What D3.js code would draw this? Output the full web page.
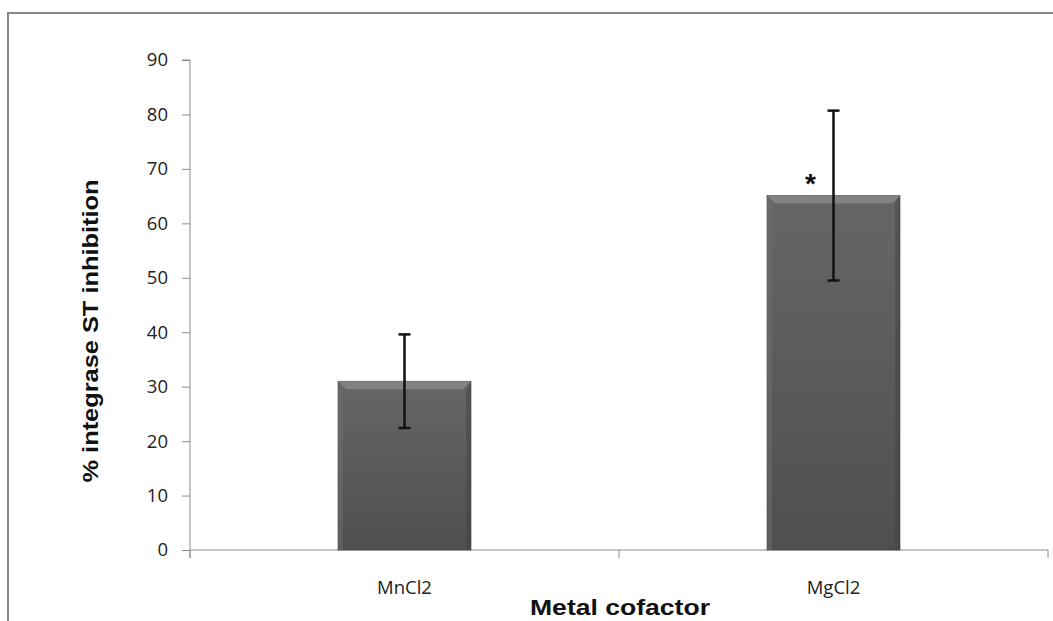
<!DOCTYPE html>
<html>
<head>
<meta charset="utf-8">
<script src="https://cdn.jsdelivr.net/npm/d3@7"></script>
<style>
  body { margin: 0; background: #fff; }
</style>
</head>
<body>
<div id="chart"></div>
<script>
// data
const categories = ['MnCl2', 'MgCl2'];
const means = [31.0, 65.1];
const errors = [8.6, 15.6];
const significant = [false, true];
const yTicks = [0, 10, 20, 30, 40, 50, 60, 70, 80, 90];

const width = 1053, height = 621;
const margin = { left: 190, right: 5, top: 60, bottom: 71 };

const svg = d3.select('#chart').append('svg')
  .attr('width', width)
  .attr('height', height);

// gradient + border
const defs = svg.append('defs');
const grad = defs.append('linearGradient')
  .attr('id', 'barGrad').attr('x1', 0).attr('y1', 0).attr('x2', 0).attr('y2', 1);
grad.append('stop').attr('offset', '0%').attr('stop-color', '#666666');
grad.append('stop').attr('offset', '100%').attr('stop-color', '#4f4f4f');

svg.append('path')
  .attr('d', `M 8 ${height} L 8 13 L ${width} 13`)
  .attr('fill', 'none')
  .attr('stroke', '#878787')
  .attr('stroke-width', 2);

const x = d3.scaleBand()
  .domain(categories)
  .range([margin.left, width - margin.right])
  .paddingInner(0.69)
  .paddingOuter(0.345);

const y = d3.scaleLinear()
  .domain([0, 90])
  .range([height - margin.bottom, margin.top]);

// y axis
const yAxis = svg.append('g')
  .attr('transform', `translate(${margin.left},0)`)
  .call(d3.axisLeft(y).tickValues(yTicks).tickSize(8).tickPadding(14));
yAxis.select('.domain').attr('d', `M -8 ${y(90)} H 0 V ${y(0) + 8}`);
yAxis.selectAll('line, path').attr('stroke', '#8c8c8c');
yAxis.selectAll('text')
  .attr('font-family', 'Open Sans, sans-serif')
  .attr('font-size', 18.5)
  .attr('fill', '#222');

// x axis line + ticks at band borders
const x0 = margin.left, x1 = width - margin.right;
const xAxisG = svg.append('g');
xAxisG.append('line')
  .attr('x1', x0).attr('x2', x1)
  .attr('y1', y(0)).attr('y2', y(0))
  .attr('stroke', '#8c8c8c');
const borders = [x0, (x(categories[0]) + x(categories[1]) + x.bandwidth()) / 2, x1];
xAxisG.selectAll('line.tick').data(borders).join('line')
  .attr('class', 'tick')
  .attr('x1', d => d).attr('x2', d => d)
  .attr('y1', y(0)).attr('y2', y(0) + 8)
  .attr('stroke', '#8c8c8c');
xAxisG.selectAll('text').data(categories).join('text')
  .attr('x', d => x(d) + x.bandwidth() / 2)
  .attr('y', y(0) + 44)
  .attr('text-anchor', 'middle')
  .attr('font-family', 'Open Sans, sans-serif')
  .attr('font-size', 18.5)
  .attr('fill', '#222')
  .text(d => d);

// bars
const bars = svg.append('g');
categories.forEach((c, i) => {
  const bx = x(c), bw = x.bandwidth();
  const by = y(means[i]), bh = y(0) - y(means[i]);
  const g = bars.append('g');
  g.append('rect')
    .attr('x', bx).attr('y', by)
    .attr('width', bw).attr('height', bh)
    .attr('fill', 'url(#barGrad)')
    .attr('stroke', '#3f3f3f').attr('stroke-width', 0.6);
  // bevel top
  const b = 8;
  g.append('path')
    .attr('d', `M ${bx} ${by} L ${bx + bw} ${by} L ${bx + bw - b} ${by + b} L ${bx + b} ${by + b} Z`)
    .attr('fill', '#8a8a8a').attr('opacity', 0.8);
  g.append('path')
    .attr('d', `M ${bx} ${by} L ${bx + b * 0.6} ${by + b} L ${bx + b * 0.6} ${y(0)} L ${bx} ${y(0)} Z`)
    .attr('fill', '#707070').attr('opacity', 0.5);
  g.append('path')
    .attr('d', `M ${bx + bw} ${by} L ${bx + bw - b * 0.6} ${by + b} L ${bx + bw - b * 0.6} ${y(0)} L ${bx + bw} ${y(0)} Z`)
    .attr('fill', '#3c3c3c').attr('opacity', 0.4);
});

// error bars
const err = svg.append('g');
categories.forEach((c, i) => {
  const cx = x(c) + x.bandwidth() / 2;
  const top = y(means[i] + errors[i]), bot = y(means[i] - errors[i]);
  err.append('line')
    .attr('x1', cx).attr('x2', cx).attr('y1', top).attr('y2', bot)
    .attr('stroke', '#111').attr('stroke-width', 2.5);
  [top, bot].forEach(yy => {
    err.append('line')
      .attr('x1', cx - 6).attr('x2', cx + 6).attr('y1', yy).attr('y2', yy)
      .attr('stroke', '#111').attr('stroke-width', 2.5);
  });
  if (significant[i]) {
    err.append('text')
      .attr('x', cx - 23)
      .attr('y', y(means[i]) - 3)
      .attr('text-anchor', 'middle')
      .attr('font-family', 'Liberation Sans, Arial, sans-serif')
      .attr('font-weight', 'bold')
      .attr('font-size', 28)
      .attr('fill', '#111')
      .text('*');
  }
});

// axis titles
svg.append('text')
  .attr('x', 620)
  .attr('y', 615)
  .attr('text-anchor', 'middle')
  .attr('font-family', 'Liberation Sans, Arial, sans-serif')
  .attr('font-weight', 'bold')
  .attr('font-size', 22)
  .attr('textLength', 180)
  .attr('lengthAdjust', 'spacingAndGlyphs')
  .attr('fill', '#111')
  .text('Metal cofactor');

svg.append('text')
  .attr('transform', `translate(98, ${(y(0) + y(90)) / 2 + 26}) rotate(-90)`)
  .attr('text-anchor', 'middle')
  .attr('font-family', 'Liberation Sans, Arial, sans-serif')
  .attr('font-weight', 'bold')
  .attr('font-size', 22)
  .attr('textLength', 303)
  .attr('lengthAdjust', 'spacingAndGlyphs')
  .attr('fill', '#111')
  .text('% integrase ST inhibition');
</script>
</body>
</html>
